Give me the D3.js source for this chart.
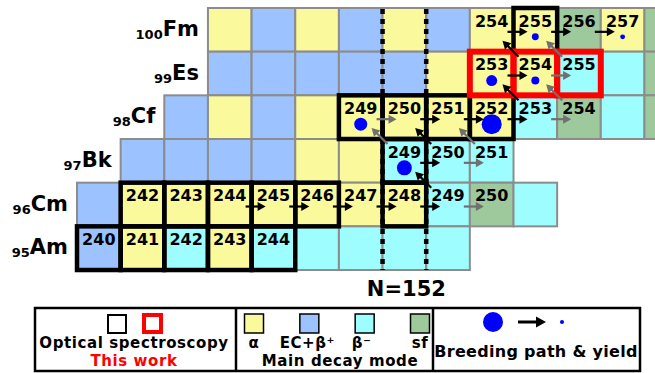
<!DOCTYPE html>
<html>
<head>
<meta charset="utf-8">
<script src="https://cdn.jsdelivr.net/npm/d3@7"></script>
<style>
  html, body { margin: 0; padding: 0; background: #fff; }
  svg { display: block; font-family: "DejaVu Sans", Verdana, sans-serif; font-weight: bold; }
</style>
</head>
<body>
<svg id="chart" width="655" height="373"></svg>
<script>
// ---- Nuclide data -------------------------------------------------------
const symbols        = ["Fm", "Es", "Cf", "Bk", "Cm", "Am"];
const protonNumbers  = [100, 99, 98, 97, 96, 95];
const firstNeutron   = [148, 148, 147, 146, 145, 145];

// main decay mode of each nuclide along a row, starting at firstNeutron
const decayModes = [
  ["a", "ec", "a", "ec", "a", "ec", "a", "a", "sf", "a", "sf"],
  ["ec", "ec", "ec", "ec", "ec", "a", "a", "a", "bm", "bm", "sf"],
  ["ec", "a", "ec", "a", "a", "a", "a", "a", "bm", "sf", "bm", "sf"],
  ["ec", "ec", "ec", "ec", "a", "a", "bm", "bm", "bm"],
  ["ec", "a", "a", "a", "a", "a", "a", "a", "bm", "sf", "bm"],
  ["ec", "a", "bm", "a", "bm", "bm", "bm", "bm", "bm"]
];

// mass numbers written in the cells
const labeledMasses = [
  [254, 255, 256, 257],
  [253, 254, 255],
  [249, 250, 251, 252, 253, 254],
  [249, 250, 251],
  [242, 243, 244, 245, 246, 247, 248, 249, 250],
  [240, 241, 242, 243, 244]
];

// isotopes studied by optical spectroscopy
const opticalSpectroscopy = [
  ["Fm", 255],
  ["Cf", 249], ["Cf", 250], ["Cf", 251], ["Cf", 252],
  ["Bk", 249],
  ["Cm", 242], ["Cm", 243], ["Cm", 244], ["Cm", 245], ["Cm", 246], ["Cm", 248],
  ["Am", 240], ["Am", 241], ["Am", 242], ["Am", 243], ["Am", 244]
];
const thisWork = [["Es", 253], ["Es", 254], ["Es", 255]];

// relative breeding yield (dot area)
const breedingYield = [
  ["Cf", 252, 1.00], ["Bk", 249, 0.56], ["Cf", 249, 0.42],
  ["Es", 253, 0.30], ["Es", 254, 0.16], ["Fm", 255, 0.12], ["Fm", 257, 0.06]
];

// neutron capture (A -> A+1) and beta-minus decay (Z -> Z+1) steps
const neutronCaptures = [
  ["Cm", 244, "main"], ["Cm", 245, "main"], ["Cm", 246, "main"], ["Cm", 247, "main"],
  ["Cm", 248, "main"], ["Cm", 249, "side"],
  ["Bk", 249, "main"], ["Bk", 250, "side"],
  ["Cf", 249, "side"], ["Cf", 250, "main"], ["Cf", 251, "main"], ["Cf", 252, "main"], ["Cf", 253, "side"],
  ["Es", 253, "main"], ["Es", 254, "side"],
  ["Fm", 254, "main"], ["Fm", 255, "main"], ["Fm", 256, "main"]
];
const betaDecays = [
  ["Cm", 249, "main"], ["Bk", 249, "side"], ["Bk", 250, "main"], ["Bk", 251, "side"],
  ["Cf", 253, "main"], ["Cf", 254, "side"], ["Es", 254, "main"], ["Es", 255, "side"]
];

const magicNeutron = 152;
const decayKeys   = ["a", "ec", "bm", "sf"];
const decayNames  = ["α", "EC+β⁺", "β⁻", "sf"];

// ---- Scales -------------------------------------------------------------
const svg = d3.select("#chart");
const cellW = 43.65, cellH = 43.67;
const neutrons = d3.range(145, 159);
const x = d3.scaleBand().domain(neutrons).range([77, 77 + neutrons.length * cellW]);
const y = d3.scaleBand().domain(protonNumbers).range([8, 8 + protonNumbers.length * cellH]);
const color = d3.scaleOrdinal().domain(decayKeys)
  .range(["#fafa9c", "#9cc2ff", "#9dfdff", "#9dc99c"]);
const radius = d3.scaleSqrt().domain([0, 1]).range([0, 10]);
const zOf = Object.fromEntries(symbols.map((s, i) => [s, protonNumbers[i]]));
const cx = (z, a) => x(a - z) + cellW / 2;
const cy = z => y(z) + cellH / 2;

// ---- Cells --------------------------------------------------------------
const cells = [];
decayModes.forEach((row, i) => row.forEach((m, j) => {
  cells.push({ z: protonNumbers[i], n: firstNeutron[i] + j, mode: m });
}));
svg.append("g").selectAll("rect").data(cells).join("rect")
  .attr("x", d => x(d.n)).attr("y", d => y(d.z))
  .attr("width", cellW).attr("height", cellH)
  .attr("fill", d => color(d.mode))
  .attr("stroke", "#8c8c8c").attr("stroke-width", 2);

// ---- N = 152 shell closure ----------------------------------------------
const yTop = y.range()[0], yBot = y.range()[1];
svg.append("g").selectAll("line").data([x(magicNeutron), x(magicNeutron) + cellW]).join("line")
  .attr("x1", d => d).attr("x2", d => d).attr("y1", yTop + 1).attr("y2", yBot)
  .attr("stroke", "#000").attr("stroke-width", 4.5).attr("stroke-dasharray", "5,5");
svg.append("text").attr("x", x(magicNeutron) + cellW / 2 + 2).attr("y", 296)
  .attr("text-anchor", "middle").attr("font-size", 21).text("N=" + magicNeutron);

// ---- Measurement frames -------------------------------------------------
svg.append("g").selectAll("rect").data(opticalSpectroscopy).join("rect")
  .attr("x", d => x(d[1] - zOf[d[0]])).attr("y", d => y(zOf[d[0]]))
  .attr("width", cellW).attr("height", cellH)
  .attr("fill", "none").attr("stroke", "#000").attr("stroke-width", 4.5);
svg.append("g").selectAll("rect").data(thisWork).join("rect")
  .attr("x", d => x(d[1] - zOf[d[0]])).attr("y", d => y(zOf[d[0]]))
  .attr("width", cellW).attr("height", cellH)
  .attr("fill", "none").attr("stroke", "#ff0000").attr("stroke-width", 6);

// ---- Element labels -----------------------------------------------------
const elLabels = svg.append("g").selectAll("text").data(symbols).join("text")
  .attr("text-anchor", "end")
  .attr("x", (s, i) => x(firstNeutron[i]) - 9)
  .attr("y", (s, i) => cy(protonNumbers[i]) + 6);
elLabels.append("tspan").attr("font-size", 13).attr("dy", 3).text((s, i) => protonNumbers[i]);
elLabels.append("tspan").attr("font-size", 21).attr("dy", -3).text(s => s);

// ---- Mass numbers -------------------------------------------------------
const massLabels = [];
labeledMasses.forEach((row, i) => row.forEach(a => massLabels.push({ z: protonNumbers[i], a })));
svg.append("g").selectAll("text").data(massLabels).join("text")
  .attr("x", d => cx(d.z, d.a)).attr("y", d => y(d.z) + 18.5)
  .attr("text-anchor", "middle").attr("font-size", 16).text(d => d.a);

// ---- Breeding yield dots ------------------------------------------------
svg.append("g").selectAll("circle").data(breedingYield).join("circle")
  .attr("cx", d => cx(zOf[d[0]], d[1])).attr("cy", d => cy(zOf[d[0]]) + 7)
  .attr("r", d => radius(d[2])).attr("fill", "#0000ff");

// ---- Arrows -------------------------------------------------------------
const arrowColor = { main: "#000", side: "#707070" };
function arrow(g, x1, y1, x2, y2, col, lw, hl, hw) {
  const dx = x2 - x1, dy = y2 - y1, len = Math.hypot(dx, dy);
  const ux = dx / len, uy = dy / len;
  const bx = x2 - ux * hl, by = y2 - uy * hl;
  g.append("line").attr("x1", x1).attr("y1", y1)
    .attr("x2", bx + ux * 1).attr("y2", by + uy * 1)
    .attr("stroke", col).attr("stroke-width", lw);
  g.append("path")
    .attr("d", `M${x2},${y2}L${bx - uy * hw},${by + ux * hw}L${bx + uy * hw},${by - ux * hw}Z`)
    .attr("fill", col);
}
const arrows = svg.append("g");
neutronCaptures.forEach(([s, a, k]) => {
  const z = zOf[s], xr = x(a - z) + cellW, yy = cy(z) + 2;
  arrow(arrows, xr - 6, yy, xr + 14, yy, arrowColor[k], 2.2, 8, 4.5);
});
betaDecays.forEach(([s, a, k]) => {
  const z = zOf[s], xc = x(a - z), yc = y(z);
  arrow(arrows, xc + 5, yc + 5, xc - 11, yc - 11, arrowColor[k], 2.2, 8, 4.5);
});

// ---- Legend -------------------------------------------------------------
const lg = svg.append("g");
lg.append("rect").attr("x", 35).attr("y", 308).attr("width", 605).attr("height", 63)
  .attr("fill", "none").attr("stroke", "#000").attr("stroke-width", 2.5);
[236, 433].forEach(v => lg.append("line").attr("x1", v).attr("x2", v)
  .attr("y1", 308).attr("y2", 371).attr("stroke", "#000").attr("stroke-width", 2.5));

const lineA = 348, lineB = 366;

// measurement section
lg.append("rect").attr("x", 108).attr("y", 315).attr("width", 18).attr("height", 18)
  .attr("fill", "none").attr("stroke", "#000").attr("stroke-width", 2);
lg.append("rect").attr("x", 144).attr("y", 315).attr("width", 17).attr("height", 17)
  .attr("fill", "none").attr("stroke", "#ff0000").attr("stroke-width", 4);
lg.append("text").attr("x", 134).attr("y", lineA).attr("text-anchor", "middle")
  .attr("font-size", 15).attr("letter-spacing", 0.6).text("Optical spectroscopy");
lg.append("text").attr("x", 134).attr("y", lineB).attr("text-anchor", "middle")
  .attr("font-size", 15).attr("letter-spacing", 0.6).attr("fill", "#ff0000").text("This work");

// decay mode section
const swatchX = d3.scalePoint().domain(decayKeys).range([254, 420]);
lg.selectAll("rect.sw").data(decayKeys).join("rect").attr("class", "sw")
  .attr("x", d => swatchX(d) - 9.5).attr("y", 314).attr("width", 19).attr("height", 19)
  .attr("fill", d => color(d)).attr("stroke", "#000").attr("stroke-width", 1.5);
lg.selectAll("text.dm").data(decayKeys).join("text").attr("class", "dm")
  .attr("x", d => swatchX(d) + (d === "ec" ? -2 : d === "bm" ? -3 : 0)).attr("y", lineA)
  .attr("text-anchor", "middle").attr("font-size", 15).attr("letter-spacing", 0.5)
  .text((d, i) => decayNames[i]);
lg.append("text").attr("x", 340).attr("y", lineB).attr("text-anchor", "middle")
  .attr("font-size", 15).attr("letter-spacing", 0.6).text("Main decay mode");

// breeding section
lg.append("circle").attr("cx", 493).attr("cy", 322).attr("r", radius(1)).attr("fill", "#0000ff");
arrow(lg, 518, 322, 546, 322, "#000", 3, 10, 5.5);
lg.append("circle").attr("cx", 562).attr("cy", 322).attr("r", radius(0.04)).attr("fill", "#0000ff");
lg.append("text").attr("x", 536).attr("y", 357).attr("text-anchor", "middle")
  .attr("font-size", 16).attr("letter-spacing", 0.3).text("Breeding path & yield");
</script>
</body>
</html>
